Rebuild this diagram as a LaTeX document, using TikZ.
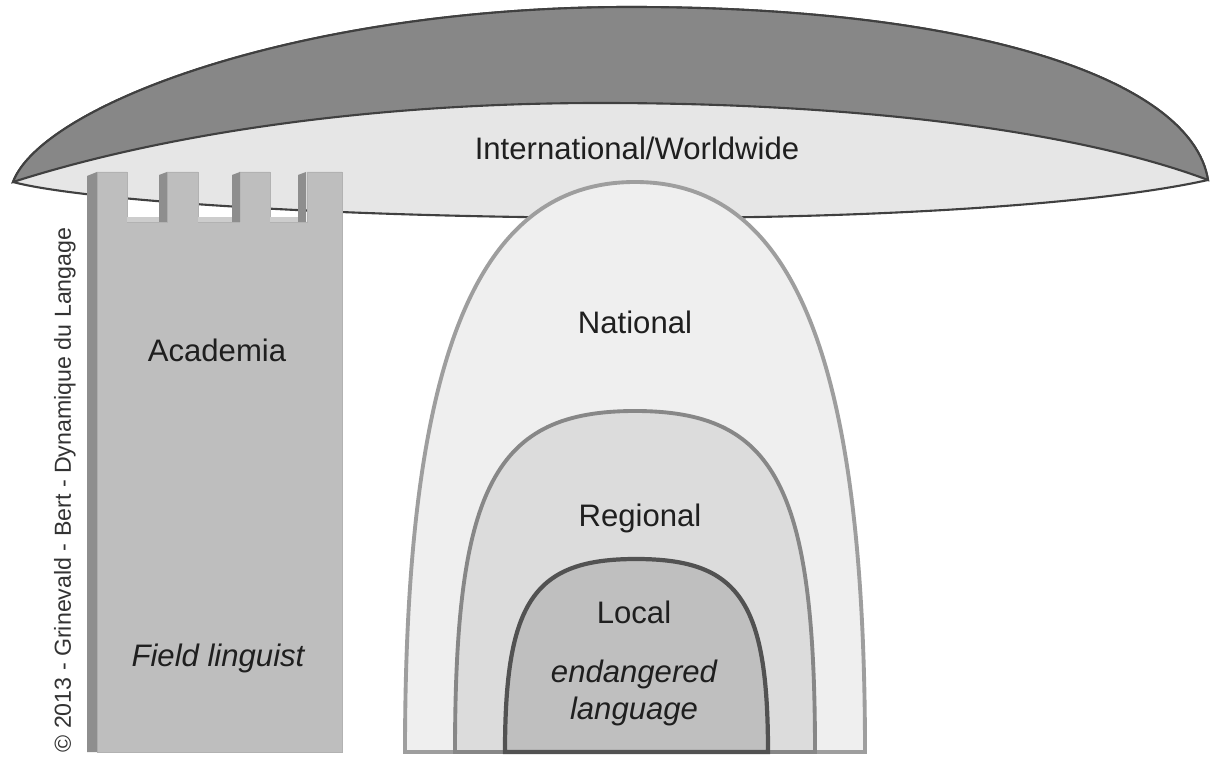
\documentclass[tikz,border=0pt]{standalone}
\usepackage{fontspec}
\setmainfont{Liberation Sans}
\usetikzlibrary{positioning}
\definecolor{lensdark}{HTML}{878787}
\definecolor{lenslight}{HTML}{E6E6E6}
\definecolor{towerfront}{HTML}{BEBEBE}
\definecolor{towerside}{HTML}{8E8E8E}
\definecolor{towerfloor}{HTML}{CDCDCD}
\definecolor{natfill}{HTML}{EFEFEF}
\definecolor{regfill}{HTML}{DCDCDC}
\definecolor{locfill}{HTML}{BFBFBF}
\tikzset{
	lensline/.style={draw=black!75, line width=1.2pt},
	towerbox/.style={fill=towerfront, draw=black!30, line width=0.4pt},
	towerstrip/.style={fill=towerside},
	natdome/.style={fill=natfill, draw=black!38, line width=2.2pt},
	regdome/.style={fill=regfill, draw=black!47, line width=2.2pt},
	locdome/.style={fill=locfill, draw=black!68, line width=2.4pt},
	lbl/.style={inner sep=0pt, text=black!88, font=\fontsize{17.7}{21}\selectfont},
	ilbl/.style={lbl, font=\fontsize{17.7}{21}\selectfont\itshape},
	credit/.style={inner sep=0pt, text=black!80, font=\fontsize{13.2}{15}\selectfont}
}
\begin{document}
\begin{tikzpicture}[x=0.02cm,y=-0.02cm]
\useasboundingbox (0,0) rectangle (1211,760);
\fill[white] (0,0) rectangle (1211,760);
\coordinate (tipL) at (13,182);
\coordinate (tipR) at (1208,180);

% umbrella
\draw[lensline, fill=lenslight] (tipL) .. controls (80,200) and (330,218) .. (650,218) .. controls (873,218) and (1096,205) .. (tipR)
	.. controls (1192,80) and (977,7) .. (630,7) .. controls (300,7) and (42,105) .. (tipL) -- cycle;
\draw[lensline, fill=lensdark] (tipL) .. controls (42,105) and (300,7) .. (630,7) .. controls (977,7) and (1192,80) .. (tipR)
	.. controls (1086,134) and (874,103) .. (600,103) .. controls (365,103) and (160,135) .. (tipL) -- cycle;

% domes
\draw[natdome] (405,752) .. controls (405,359) and (476,182) .. (635,182) .. controls (794,182) and (865,359) .. (865,752) -- cycle;
\draw[regdome] (455,752) .. controls (455,486) and (495,411) .. (635,411) .. controls (775,411) and (815,486) .. (815,752) -- cycle;
\draw[locdome] (505,752) .. controls (505,601) and (534,559) .. (636,559) .. controls (739,559) and (768,601) .. (768,752) -- cycle;

% tower
\filldraw[towerbox] (97,752) -- (97,172) -- (127,172) -- (127,222) -- (167,222) -- (167,172) -- (198,172) -- (198,222)
	-- (239,222) -- (239,172) -- (270,172) -- (270,222) -- (307,222) -- (307,172) -- (342,172) -- (342,752) -- cycle;
\foreach \x/\y in {127/159,198/232,270/298}{
	\fill[towerfloor] (\x,217) rectangle (\y,222);
}
\fill[towerstrip] (87,176) -- (97,172) -- (97,752) -- (87,752) -- cycle;
\foreach \x in {159,232,298}{
	\fill[towerstrip] (\x,175) -- (\x+8,172) -- (\x+8,222) -- (\x,222) -- cycle;
}

\node[lbl] (intl) at (637,148) {International/Worldwide};
\node[lbl] (acad) at (217,350) {Academia};
\node[ilbl] (field) at (218,658) {Field linguist};
\node[lbl] (nat) at (635,322) {National};
\node[lbl] (reg) at (640,518) {Regional};
\node[lbl] (loc) at (634,612) {Local};
\node[ilbl, align=center] (endg) at (634,693) {endangered\\language};
\node[credit, rotate=90] (copy) at (65,490) {© 2013 - Grinevald - Bert - Dynamique du Langage};
\end{tikzpicture}
\end{document}
